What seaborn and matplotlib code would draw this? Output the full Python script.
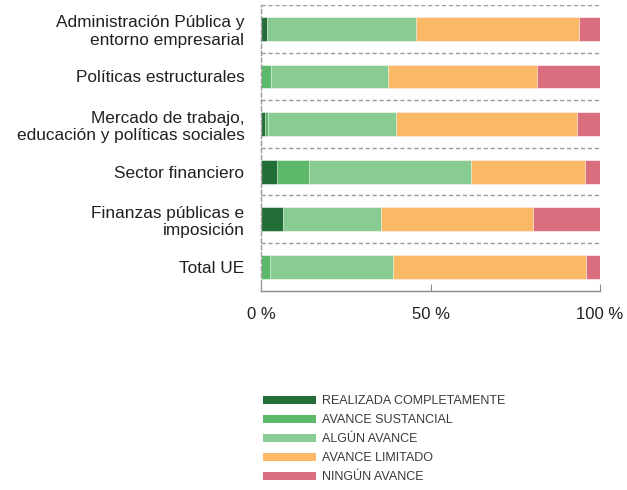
import numpy as np
import pandas as pd
import matplotlib
matplotlib.use("Agg")
import matplotlib.pyplot as plt
from matplotlib.patches import Patch
import seaborn as sns

sns.set_style("white")
plt.rcParams['font.family'] = ['Liberation Sans', 'DejaVu Sans']

# Categories (top to bottom)
categories = [
    "Administración Pública y\nentorno empresarial",
    "Políticas estructurales",
    "Mercado de trabajo,\neducación y políticas sociales",
    "Sector financiero",
    "Finanzas públicas e\nimposición",
    "Total UE",
]

# Shares per category (%)
realizada = [1.9, 0.0, 1.2, 4.7, 6.6, 0.0]
sustancial = [0.0, 3.0, 0.9, 9.6, 0.0, 2.8]
algun = [43.9, 34.6, 37.8, 47.6, 28.9, 36.1]
limitado = [48.1, 43.8, 53.4, 33.6, 44.6, 57.1]
ninguno = [6.1, 18.6, 6.7, 4.5, 19.9, 4.0]

series_names = ["REALIZADA COMPLETAMENTE", "AVANCE SUSTANCIAL", "ALGÚN AVANCE",
                "AVANCE LIMITADO", "NINGÚN AVANCE"]
colors = ["#236e37", "#5cb96a", "#88cc94", "#fbb865", "#db6e7e"]

df = pd.DataFrame({
    "cat": categories,
    series_names[0]: realizada,
    series_names[1]: sustancial,
    series_names[2]: algun,
    series_names[3]: limitado,
    series_names[4]: ninguno,
})
cum = df[series_names].cumsum(axis=1)

fig = plt.figure(figsize=(6.27, 4.90), dpi=100)
ax = fig.add_axes([261 / 627, 1 - 290.7 / 490, 339 / 627, 285.7 / 490])

# stacked bars: draw cumulative totals from largest to smallest
for name, col in reversed(list(zip(series_names, colors))):
    sns.barplot(x=cum[name], y=df["cat"], color=col, orient="h", width=0.5,
                saturation=1, edgecolor="white", linewidth=0.4, ax=ax)

ax.set_xlim(0, 100)
ax.set_ylim(5.5, -0.5)
ax.set_xlabel("")
ax.set_ylabel("")

# dashed separators between categories
for yb in np.arange(-0.5, 5.0, 1.0):
    ax.axhline(yb, color="#9a9a9a", linestyle=(0, (3, 2)), linewidth=1.0, zorder=0)

for s in ["top", "right"]:
    ax.spines[s].set_visible(False)
ax.spines["left"].set_color("#9a9a9a")
ax.spines["left"].set_linestyle((0, (3, 2)))
ax.spines["left"].set_linewidth(1.0)
ax.spines["bottom"].set_color("#8a8a8a")
ax.spines["bottom"].set_linewidth(1.0)

ax.set_xticks([0, 50, 100])
ax.set_xticklabels(["0 %", "50 %", "100 %"])
ax.tick_params(axis="x", direction="in", length=5, color="#8a8a8a", labelsize=12,
               pad=12, labelcolor="#231f20", bottom=True)
ax.tick_params(axis="y", length=0, labelsize=12.4, pad=12, labelcolor="#231f20")

handles = [Patch(facecolor=c, edgecolor="none") for c in colors]
fig.legend(handles, series_names, loc="upper left", bbox_to_anchor=(252 / 627, 1 - 384 / 490),
           frameon=False, handlelength=4.2, handleheight=0.7, handletextpad=0.5,
           labelspacing=0.56, prop={"family": ["Liberation Sans", "DejaVu Sans"], "size": 9},
           labelcolor="#3a3a3a")

fig.savefig("out.png", dpi=100)
